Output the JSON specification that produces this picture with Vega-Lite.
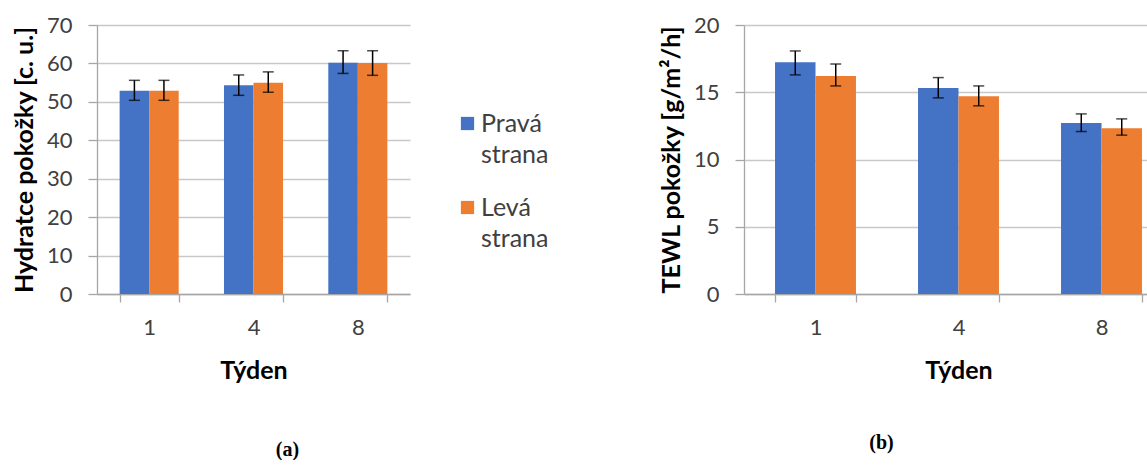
{
  "$schema": "https://vega.github.io/schema/vega-lite/v6.json",
  "padding": {"left": 12, "top": 14, "right": 0, "bottom": 0},
  "background": "white",
  "config": {
    "font": "Lato",
    "view": {"stroke": null},
    "axis": {"labelFont": "Lato", "labelFontSize": 22, "labelColor": "#404040", "titleFont": "Lato", "titleFontSize": 25, "titleFontWeight": "bold", "titleColor": "#000000", "domainColor": "#A6A6A6", "tickColor": "#A6A6A6", "gridColor": "#C8C8C8", "domainWidth": 1.3, "tickWidth": 1.3, "gridWidth": 1.3, "labelOverlap": false},
    "style": {"guide-label": {"lineHeight": 31}},
    "title": {"font": "Liberation Serif", "fontSize": 20, "fontWeight": "bold", "color": "#000000", "orient": "bottom"}
  },
  "datasets": {
    "hyd": [
      {"tyden": "1", "strana": "Pravá strana", "value": 52.9, "lo": 50.4, "hi": 55.6},
      {"tyden": "1", "strana": "Levá strana", "value": 52.9, "lo": 50.4, "hi": 55.6},
      {"tyden": "4", "strana": "Pravá strana", "value": 54.3, "lo": 51.7, "hi": 57.0},
      {"tyden": "4", "strana": "Levá strana", "value": 55.0, "lo": 52.5, "hi": 57.8},
      {"tyden": "8", "strana": "Pravá strana", "value": 60.2, "lo": 57.4, "hi": 63.3},
      {"tyden": "8", "strana": "Levá strana", "value": 60.1, "lo": 56.9, "hi": 63.3}
    ],
    "tewl": [
      {"tyden": "1", "strana": "Pravá strana", "value": 17.23, "lo": 16.29, "hi": 18.07},
      {"tyden": "1", "strana": "Levá strana", "value": 16.21, "lo": 15.47, "hi": 17.10},
      {"tyden": "4", "strana": "Pravá strana", "value": 15.32, "lo": 14.58, "hi": 16.09},
      {"tyden": "4", "strana": "Levá strana", "value": 14.70, "lo": 13.99, "hi": 15.47},
      {"tyden": "8", "strana": "Pravá strana", "value": 12.72, "lo": 12.08, "hi": 13.39},
      {"tyden": "8", "strana": "Levá strana", "value": 12.33, "lo": 11.81, "hi": 13.02}
    ]
  },
  "hconcat": [
    {
      "width": 313,
      "height": 269,
      "data": {"name": "hyd"},
      "title": {"text": "(a)", "offset": 57, "dx": 34},
      "encoding": {
        "x": {"field": "tyden", "type": "nominal", "sort": ["1", "4", "8"], "title": "Týden",
          "scale": {"paddingInner": 0.434, "paddingOuter": 0.217},
          "axis": {"labelAngle": 0, "tickBand": "extent", "tickSize": 8, "labelPadding": 15, "titlePadding": 20, "domain": true, "grid": false}},
        "xOffset": {"field": "strana", "type": "nominal", "sort": ["Pravá strana", "Levá strana"]}
      },
      "layer": [
        {
          "mark": {"type": "bar"},
          "encoding": {
            "y": {"field": "value", "type": "quantitative", "title": "Hydratce pokožky [c. u.]",
              "scale": {"domain": [0, 70]},
              "axis": {"values": [0, 10, 20, 30, 40, 50, 60, 70], "labelOverlap": false, "tickSize": 9, "labelPadding": 16, "titlePadding": 9, "grid": true}},
            "color": {"field": "strana", "type": "nominal", "sort": ["Pravá strana", "Levá strana"],
              "scale": {"domain": ["Pravá strana", "Levá strana"], "range": ["#4472C4", "#ED7D31"]},
              "legend": {"title": null, "orient": "none", "legendX": 358, "legendY": 86, "symbolType": "square", "symbolSize": 175, "symbolStrokeWidth": 0, "labelFontSize": 25, "labelFont": "Lato", "labelColor": "#404040", "labelExpr": "split(datum.label, ' ')", "rowPadding": 27, "labelOffset": 1, "padding": 0}}
          }
        },
        {
          "mark": {"type": "rule", "color": "#000000", "strokeWidth": 1.5},
          "encoding": {"y": {"field": "lo", "type": "quantitative", "title": "Hydratce pokožky [c. u.]",
              "axis": {"values": [0, 10, 20, 30, 40, 50, 60, 70], "labelOverlap": false, "tickSize": 9, "labelPadding": 16, "titlePadding": 9, "grid": true}}, "y2": {"field": "hi"}}
        },
        {
          "mark": {"type": "tick", "color": "#000000", "thickness": 1.5, "size": 11},
          "encoding": {"y": {"field": "lo", "type": "quantitative", "title": "Hydratce pokožky [c. u.]",
              "axis": {"values": [0, 10, 20, 30, 40, 50, 60, 70], "labelOverlap": false, "tickSize": 9, "labelPadding": 16, "titlePadding": 9, "grid": true}}}
        },
        {
          "mark": {"type": "tick", "color": "#000000", "thickness": 1.5, "size": 11},
          "encoding": {"y": {"field": "hi", "type": "quantitative", "title": "Hydratce pokožky [c. u.]",
              "axis": {"values": [0, 10, 20, 30, 40, 50, 60, 70], "labelOverlap": false, "tickSize": 9, "labelPadding": 16, "titlePadding": 9, "grid": true}}}
        }
      ]
    },
    {
      "width": 429,
      "height": 269,
      "data": {"name": "tewl"},
      "title": {"text": "(b)", "offset": 50, "dx": -77},
      "encoding": {
        "x": {"field": "tyden", "type": "nominal", "sort": ["1", "4", "8"], "title": "Týden",
          "scale": {"paddingInner": 0.434, "paddingOuter": 0.217},
          "axis": {"labelAngle": 0, "tickBand": "extent", "tickSize": 8, "labelPadding": 15, "titlePadding": 20, "domain": true, "grid": false}},
        "xOffset": {"field": "strana", "type": "nominal", "sort": ["Pravá strana", "Levá strana"]}
      },
      "layer": [
        {
          "mark": {"type": "bar"},
          "encoding": {
            "y": {"field": "value", "type": "quantitative", "title": "TEWL pokožky [g/m²/h]",
              "scale": {"domain": [0, 20]},
              "axis": {"values": [0, 5, 10, 15, 20], "labelOverlap": false, "tickSize": 9, "labelPadding": 16, "titlePadding": 9, "grid": true}},
            "color": {"field": "strana", "type": "nominal", "sort": ["Pravá strana", "Levá strana"],
              "scale": {"domain": ["Pravá strana", "Levá strana"], "range": ["#4472C4", "#ED7D31"]},
              "legend": null}
          }
        },
        {
          "mark": {"type": "rule", "color": "#000000", "strokeWidth": 1.5},
          "encoding": {"y": {"field": "lo", "type": "quantitative", "title": "TEWL pokožky [g/m²/h]",
              "axis": {"values": [0, 5, 10, 15, 20], "labelOverlap": false, "tickSize": 9, "labelPadding": 16, "titlePadding": 9, "grid": true}}, "y2": {"field": "hi"}}
        },
        {
          "mark": {"type": "tick", "color": "#000000", "thickness": 1.5, "size": 11},
          "encoding": {"y": {"field": "lo", "type": "quantitative", "title": "TEWL pokožky [g/m²/h]",
              "axis": {"values": [0, 5, 10, 15, 20], "labelOverlap": false, "tickSize": 9, "labelPadding": 16, "titlePadding": 9, "grid": true}}}
        },
        {
          "mark": {"type": "tick", "color": "#000000", "thickness": 1.5, "size": 11},
          "encoding": {"y": {"field": "hi", "type": "quantitative", "title": "TEWL pokožky [g/m²/h]",
              "axis": {"values": [0, 5, 10, 15, 20], "labelOverlap": false, "tickSize": 9, "labelPadding": 16, "titlePadding": 9, "grid": true}}}
        }
      ]
    }
  ],
  "spacing": 110,
  "resolve": {"legend": {"color": "independent"}, "scale": {"color": "independent", "xOffset": "independent"}}
}
